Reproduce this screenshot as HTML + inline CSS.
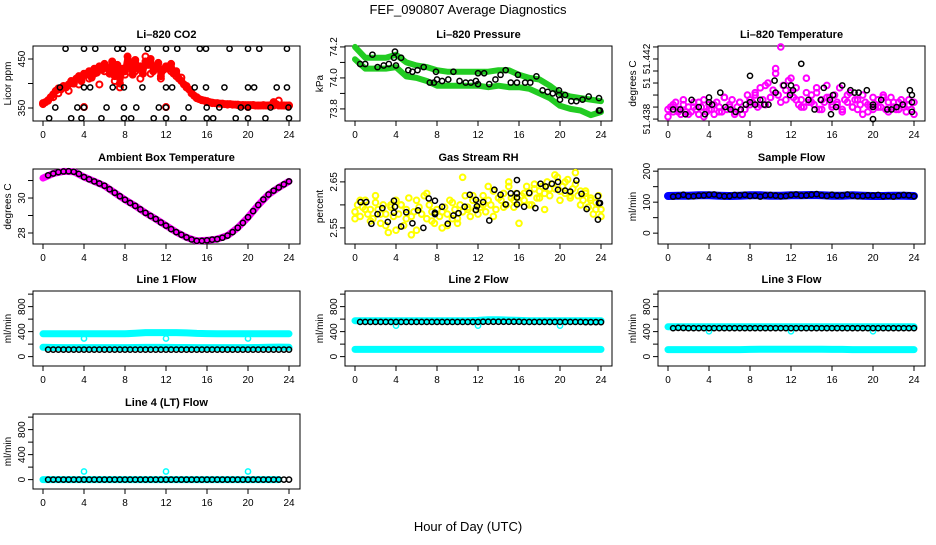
<!DOCTYPE html>
<html><head><meta charset="utf-8"><style>
html,body{margin:0;padding:0;background:#fff;}
svg text{font-family:"Liberation Sans",Arial,sans-serif;}
</style></head><body>
<svg id="chart" width="936" height="540" viewBox="0 0 936 540" xmlns="http://www.w3.org/2000/svg">
<rect width="936" height="540" fill="#fff"/>
<text x="468" y="14" font-size="13" text-anchor="middle">FEF_090807  Average Diagnostics</text>
<text x="468" y="531" font-size="13" text-anchor="middle">Hour of Day (UTC)</text>
</svg>
<script>
// ---------- data ----------
const xTicks=[0,4,8,12,16,20,24];
// CO2 (ppm)
const co2Red=[360,362,366,372,378,385,390,388,395,392,398,405,400,410,415,405,420,418,425,412,430,422,435,428,440,432,420,445,415,438,400,430,425,455,440,418,448,430,435,420,445,438,450,425,432,442,415,428,435,430,440,420,425,410,405,398,395,388,380,375,370,368,366,365,364,362,361,360,360,359,359,358,358,358,357,357,357,356,356,356,356,356,356,355,355,355,356,355,355,356,362,358,355,355,355,355,355];
const co2RedB=[358,365,372,380,392,385,400,398,352,410,420,398,425,430,405,392,418,440,425,410,455,420,432,410,352,425,415,412,392,380,372,366,362,360,359,358,357,357,356,356,352,356,355,355,355,355,365,355,355];
const co2BlackH=[2.2,4.0,5.1,7.25,7.8,10.2,12.0,13.1,15.3,15.9,18.2,20.0,21.1,23.8, 1.65,4.0,4.6,6.8,7.9,9.7,12.0,12.6,14.8,15.9,17.7,20.0,20.6,22.8,23.8, 1.2,3.35,4.0,6.2,7.9,9.1,11.3,12.0,14.2,15.97,17.2,19.3,20.0,22.2,23.95, 0.6,2.75,3.75,5.7,7.9,8.6,10.8,12.0,13.7,15.97,16.6,18.8,20.0,21.7,24.0];
const co2BlackV=[471,471,471,471,471,471,471,471,471,471,471,471,471,471, 392,392,392,392,392,392,392,392,392,392,392,392,392,392,392, 351,351,351,351,351,351,351,351,351,351,351,351,351,351,351, 329,329,329,329,329,329,329,329,329,329,329,329,329,329,329];
// Pressure (kPa), hourly bands
const presUpper=[74.20,74.13,74.13,74.13,74.15,74.10,74.08,74.07,74.05,74.04,74.04,74.04,74.04,74.04,74.05,74.05,74.02,74.00,73.99,73.95,73.90,73.88,73.87,73.86,73.85];
const presLower=[74.12,74.06,74.06,74.06,74.07,74.01,74.00,73.98,73.95,73.95,73.95,73.95,73.95,73.94,73.95,73.94,73.94,73.93,73.90,73.87,73.82,73.80,73.79,73.76,73.78];
const presBlackH=[0.5,1.0,1.7,2.2,2.8,3.3,3.8,3.9,4.0,4.5,5.2,5.6,6.1,6.7,7.3,7.7,7.9,8.0,8.5,9.1,9.6,10.2,10.8,11.3,11.8,12.0,12.0,12.6,13.1,13.7,14.2,14.7,15.2,15.8,15.9,16.6,17.1,17.7,18.3,18.8,19.3,19.9,19.9,20.0,20.5,21.1,21.6,22.2,22.8,23.8,23.8,23.9];
const presBlackV=[74.09,74.09,74.15,74.07,74.08,74.09,74.13,74.17,74.08,74.13,74.05,74.04,74.05,74.07,73.97,73.97,74.04,73.99,73.98,73.99,74.04,73.98,73.97,73.97,73.98,74.03,73.96,74.03,73.96,73.99,74.02,74.05,73.97,73.97,74.02,73.97,73.97,74.01,73.92,73.91,73.90,73.89,73.92,73.86,73.89,73.85,73.85,73.86,73.88,73.87,73.79,73.79];
// Li-820 temperature (deg C)
const liTempA=[51.4379,51.4380,51.4378,51.4382,51.4379,51.4377,51.4381,51.4378,51.4380,51.4378,51.4382,51.4379,51.4377,51.4380,51.4383,51.4378,51.4381,51.4379,51.4377,51.4382,51.4380,51.4378,51.4384,51.4379,51.4381,51.4383,51.4378,51.4380,51.4382,51.4377,51.4379,51.4385,51.4381,51.4382,51.4386,51.4380,51.4388,51.4383,51.4381,51.4390,51.4384,51.4387,51.4394,51.4385,51.4382,51.4389,51.4383,51.4391,51.4386,51.4384,51.4388,51.4381,51.4383,51.4380,51.4392,51.4382,51.4385,51.4381,51.4386,51.4379,51.4383,51.4382,51.4389,51.4384,51.4380,51.4385,51.4381,51.4388,51.4379,51.4383,51.4382,51.4386,51.4380,51.4383,51.4379,51.4381,51.4385,51.4382,51.4378,51.4380,51.4384,51.4381,51.4383,51.4380,51.4385,51.4379,51.4382,51.4384,51.4380,51.4379,51.4382,51.4383,51.4380,51.4378,51.4381,51.4379,51.4382];
const liTempB=[51.4376,51.4381,51.4378,51.4383,51.4377,51.4380,51.4382,51.4376,51.4379,51.4381,51.4378,51.4384,51.4380,51.4377,51.4382,51.4379,51.4383,51.4385,51.4381,51.4389,51.4384,51.4396,51.4405,51.4387,51.4392,51.4383,51.4380,51.4386,51.4382,51.4388,51.4379,51.4384,51.4381,51.4382,51.4378,51.4385,51.4380,51.4383,51.4377,51.4381,51.4379,51.4380,51.4384,51.4378,51.4382,51.4379,51.4381,51.4383,51.4377];
const liTempBlackH=[0.5,1.2,1.7,2.3,3.0,3.6,4.0,4.0,4.3,5.1,5.6,6.1,6.6,7.1,7.6,8.0,8.0,8.5,9.0,9.4,9.8,10.4,10.5,11.3,11.9,12.0,12.2,13.0,13.7,14.3,14.9,15.2,15.8,15.9,16.1,16.4,17.0,17.8,18.2,18.6,19.4,20.0,20.0,20.0,20.8,21.4,21.8,22.3,22.9,23.6,23.8,23.8,23.8];
const liTempBlackV=[51.4379,51.4379,51.4377,51.4383,51.4380,51.4377,51.4382,51.4384,51.4381,51.4386,51.4380,51.4379,51.4378,51.4379,51.4381,51.4382,51.4393,51.4381,51.4383,51.4381,51.4381,51.4391,51.4386,51.4389,51.4385,51.4389,51.4387,51.4398,51.4383,51.4379,51.4383,51.4388,51.4383,51.4377,51.4385,51.4380,51.4389,51.4387,51.4386,51.4386,51.4387,51.4381,51.4380,51.4375,51.4383,51.4379,51.4379,51.4380,51.4381,51.4387,51.4385,51.4382,51.4378];
// Ambient box temperature
const ambHourly=[31.14,31.40,31.52,31.50,31.20,30.95,30.70,30.30,29.90,29.55,29.15,28.80,28.42,28.05,27.75,27.55,27.58,27.65,27.85,28.30,28.90,29.60,30.20,30.60,30.95];
const ambBlack=[31.30,31.40,31.48,31.52,31.53,31.50,31.38,31.20,31.07,30.95,30.83,30.70,30.50,30.30,30.10,29.90,29.72,29.55,29.35,29.15,28.97,28.80,28.60,28.42,28.22,28.05,27.90,27.75,27.63,27.55,27.55,27.58,27.62,27.65,27.73,27.85,28.05,28.30,28.58,28.90,29.25,29.60,29.92,30.20,30.42,30.60,30.78,30.95];
// Gas stream RH (percent)
const rhA=[2.585,2.600,2.575,2.595,2.610,2.580,2.590,2.570,2.605,2.590,2.560,2.600,2.580,2.540,2.595,2.575,2.610,2.580,2.600,2.555,2.590,2.615,2.575,2.585,2.545,2.595,2.580,2.620,2.570,2.600,2.585,2.560,2.590,2.575,2.550,2.595,2.580,2.610,2.570,2.590,2.560,2.600,2.585,2.620,2.595,2.575,2.610,2.590,2.605,2.595,2.620,2.585,2.610,2.600,2.630,2.590,2.615,2.610,2.625,2.600,2.640,2.615,2.595,2.625,2.605,2.620,2.610,2.640,2.625,2.600,2.635,2.615,2.630,2.640,2.625,2.650,2.620,2.645,2.635,2.660,2.630,2.640,2.625,2.655,2.615,2.635,2.645,2.620,2.630,2.610,2.625,2.595,2.615,2.580,2.605,2.620,2.590];
const rhB=[2.570,2.610,2.590,2.565,2.620,2.580,2.555,2.600,2.545,2.600,2.570,2.535,2.610,2.580,2.625,2.565,2.590,2.585,2.555,2.605,2.570,2.660,2.590,2.620,2.580,2.600,2.640,2.575,2.615,2.595,2.650,2.610,2.560,2.625,2.600,2.645,2.615,2.590,2.635,2.665,2.610,2.650,2.620,2.670,2.600,2.630,2.610,2.590,2.575];
const rhBlackH=[0.55,1.1,1.6,2.2,2.67,3.2,3.8,3.8,3.9,4.5,5.0,5.6,6.15,6.67,7.2,7.8,7.8,7.8,8.5,9.05,9.6,10.1,10.7,11.2,11.8,11.8,11.9,12.5,13.1,13.6,14.2,14.7,15.2,15.8,15.8,15.8,15.8,16.5,17.0,17.6,18.1,18.6,19.2,19.8,19.8,20.5,21.0,21.6,22.1,22.6,23.7,23.8,23.7,23.9];
const rhBlackV=[2.606,2.606,2.559,2.580,2.593,2.563,2.609,2.583,2.596,2.553,2.584,2.560,2.588,2.550,2.614,2.580,2.609,2.583,2.596,2.559,2.577,2.582,2.596,2.622,2.611,2.589,2.597,2.606,2.566,2.633,2.622,2.601,2.625,2.625,2.601,2.654,2.616,2.596,2.626,2.593,2.646,2.640,2.646,2.650,2.633,2.631,2.629,2.653,2.624,2.591,2.619,2.604,2.568,2.604];
// Sample flow (ml/min)
const sampleBlue=[120,121,121,122,122,121,120,121,122,122,121,121,122,122,123,122,121,121,122,121,120,120,121,121,120];
const sampleBlack=[118,120,124,119,119,121,122,124,125,121,119,120,123,122,124,120,121,118,122,123,121,119,120,123,125,121,122,124,126,122,120,124,121,122,125,121,119,120,122,121,123,119,120,118,121,123,122,119];
// Line flows (ml/min)
const l1CyanHi=[365,365,365,365,365,365,365,365,365,375,385,385,385,385,380,372,368,366,366,366,366,366,366,366,366];
const l1CyanLo=[150,146,144,144,144,144,144,144,144,146,148,148,148,146,146,144,144,144,144,144,144,146,150,152,150];
const l1Black=[112,112,112,112,112,112,112,112,112,112,112,112,112,112,112,112,112,112,112,112,112,112,112,112,112,112,112,112,112,112,112,112,112,112,112,112,112,112,112,112,112,112,112,112,112,112,112,112];
const l1OutH=[4,12,20], l1OutV=[290,290,290];
const l2CyanHi=[575,575,575,575,575,575,575,575,575,575,575,575,580,590,590,585,580,575,575,575,575,575,575,575,575];
const l2CyanLo=[115,115,115,115,115,115,115,115,115,115,115,115,115,115,115,115,115,115,115,115,115,115,115,115,115];
const l2Black=[555,555,555,555,555,555,555,555,555,555,555,555,555,555,555,555,555,555,555,555,555,555,555,555,558,558,558,558,558,558,558,558,555,555,555,555,555,555,555,555,555,555,555,555,552,552,552,552];
const l2OutH=[4,12,20], l2OutV=[495,495,495];
const l3CyanHi=[478,478,478,478,478,478,478,478,478,478,478,478,478,478,478,478,478,478,478,478,478,478,478,478,478];
const l3CyanLo=[112,112,112,112,112,112,112,112,115,118,118,118,118,118,118,118,115,115,112,112,112,112,112,112,112];
const l3Black=[455,460,458,455,455,455,455,455,455,455,455,455,455,455,455,455,455,455,455,455,455,455,455,455,455,455,455,455,455,455,455,455,455,455,455,455,455,455,455,455,455,455,455,455,455,455,455,455];
const l3OutH=[4,12,20], l3OutV=[405,405,405];
const l4Cyan=[0,0,0,0,0,0,0,0,0,0,0,0,0,0,0,0,0,0,0,0,0,0,0,0];
const l4Black=[0,0,0,0,0,0,0,0,0,0,0,0,0,0,0,0,0,0,0,0,0,0,0,0,0,0,0,0,0,0,0,0,0,0,0,0,0,0,0,0,0,0,0,0,0,0,0,0];
const l4OutH=[4,12,20], l4OutV=[130,130,130];

// ---------- drawing ----------
const NS='http://www.w3.org/2000/svg';
const svg=document.getElementById('chart');
const L=[33,345,658], T=[46,169,291,414], W=267, H=75;
const xs=(c,h)=>L[c]+10+h*10.25;
function el(tag,attrs,parent){const e=document.createElementNS(NS,tag);for(const k in attrs)e.setAttribute(k,attrs[k]);(parent||svg).appendChild(e);return e;}
function panel(c,r,title,ylab,lo,hi,yt,ylabels,name){
  const g=el('g',{});
  
  
  const y=v=>T[r]+H-(v-lo)/(hi-lo)*H;
  const box=el('rect',{x:L[c],y:T[r],width:W,height:H,fill:'none',stroke:'#000','stroke-width':1},g);
  
  
  const t=el('text',{x:L[c]+W/2,y:T[r]-8,'font-size':11,'font-weight':'bold','text-anchor':'middle'},g);t.textContent=title;
  
  
  const yl=el('text',{transform:`translate(${L[c]-22},${T[r]+H/2}) rotate(-90)`,'font-size':10,'text-anchor':'middle'},g);yl.textContent=ylab;
  
  
  xTicks.forEach(h=>{const x=xs(c,h);el('line',{x1:x,x2:x,y1:T[r]+H,y2:T[r]+H+5,stroke:'#000'},g);
    const tx=el('text',{x:x,y:T[r]+H+17,'font-size':10,'text-anchor':'middle'},g);tx.textContent=h;
    
    });
  yt.forEach((v,i)=>{const yy=y(v);el('line',{x1:L[c],x2:L[c]-5,y1:yy,y2:yy,stroke:'#000'},g);
    if(ylabels[i]!==''){const tx=el('text',{transform:`translate(${L[c]-8},${yy}) rotate(-90)`,'font-size':10,'text-anchor':'middle'},g);tx.textContent=ylabels[i];
    
    }});
  return {g,y,c};
}
function pts(p,hs,vs,color,name,r,sw){const g=el('g',{fill:'none',stroke:color,'stroke-width':sw||1.5},p.g);
  
  
  vs.forEach((v,i)=>{el('circle',{cx:xs(p.c,hs[i]),cy:p.y(v),r:r||2.6},g);});}
function band(p,hs,vs,color,w,name){const d=vs.map((v,i)=>(i?'L':'M')+xs(p.c,hs[i]).toFixed(1)+','+p.y(v).toFixed(1)).join('');
  const e=el('path',{d:d,fill:'none',stroke:color,'stroke-width':w,'stroke-linecap':'round','stroke-linejoin':'round'},p.g);
  
  }
const hourly=n=>Array.from({length:n},(_,i)=>i);
const quarter=n=>Array.from({length:n},(_,i)=>i*0.25);
const halfFrom0=n=>Array.from({length:n},(_,i)=>i*0.5);
const halfFrom05=n=>Array.from({length:n},(_,i)=>(i+1)*0.5);

// CO2
let p=panel(0,0,'Li\u2013820 CO2','Licor ppm',323.5,476.5,[350,400,450],['350','','450'],'co2-panel');
band(p,quarter(co2Red.length),co2Red,'#ff0000',6,'co2-band');
pts(p,quarter(co2Red.length),co2Red,'#ff0000','co2-series',3,2);
pts(p,halfFrom0(co2RedB.length),co2RedB,'#ff0000','co2-series-b',3,2);
pts(p,co2BlackH,co2BlackV,'#000','co2-hourly-avg');
// Pressure
p=panel(1,0,'Li\u2013820 Pressure','kPa',73.722,74.206,[73.8,73.9,74.0,74.1,74.2],['73.8','','74.0','','74.2'],'pressure-panel');
band(p,hourly(25),presUpper,'#22cc22',6,'pressure-band-upper');
band(p,hourly(25),presLower,'#22cc22',6,'pressure-band-lower');
pts(p,presBlackH,presBlackV,'#000','pressure-hourly-avg');
// Li temp
p=panel(2,0,'Li\u2013820 Temperature','degrees C',51.43742,51.44054,[51.4375,51.438,51.4385,51.439,51.4395,51.44,51.4405],['51.438','','','51','','51.442',''],'li-temp-panel');
pts(p,quarter(liTempA.length),liTempA,'#ff00ff','li-temp-series',2.8,2);
pts(p,halfFrom0(liTempB.length),liTempB,'#ff00ff','li-temp-series-b',2.8,2);
pts(p,liTempBlackH,liTempBlackV,'#000','li-temp-hourly-avg');
// Ambient
p=panel(0,1,'Ambient Box Temperature','degrees C',27.37,31.66,[28,29,30,31],['28','','30',''],'ambient-temp-panel');
band(p,hourly(25),ambHourly,'#ff00ff',7,'ambient-temp-series');
pts(p,halfFrom05(ambBlack.length),ambBlack,'#000','ambient-temp-hourly-avg');
// RH
p=panel(1,1,'Gas Stream RH','percent',2.515,2.678,[2.55,2.60,2.65],['2.55','','2.65'],'rh-panel');
pts(p,quarter(rhA.length),rhA,'#ffff00','rh-series',2.8,2);
pts(p,halfFrom0(rhB.length),rhB,'#ffff00','rh-series-b',2.8,2);
pts(p,rhBlackH,rhBlackV,'#000','rh-hourly-avg');
// Sample flow
p=panel(2,1,'Sample Flow','ml/min',-35,207,[0,50,100,150,200],['0','','100','','200'],'sample-flow-panel');
band(p,hourly(25),sampleBlue,'#0000ff',8,'sample-flow-series');
pts(p,halfFrom05(sampleBlack.length),sampleBlack,'#000','sample-flow-hourly-avg');
const flowTicks=[0,200,400,600,800,1000], flowLabels=['0','','400','','800',''];
// Line 1
p=panel(0,2,'Line 1 Flow','ml/min',-150,1050,flowTicks,flowLabels,'line1-flow-panel');
band(p,hourly(25),l1CyanHi,'#00ffff',7,'line1-cyan-upper');
band(p,hourly(25),l1CyanLo,'#00ffff',7,'line1-cyan-lower');
pts(p,l1OutH,l1OutV,'#00ffff','line1-outliers');
pts(p,halfFrom05(l1Black.length),l1Black,'#000','line1-hourly-avg');
// Line 2
p=panel(1,2,'Line 2 Flow','ml/min',-150,1050,flowTicks,flowLabels,'line2-flow-panel');
band(p,hourly(25),l2CyanHi,'#00ffff',7,'line2-cyan-upper');
band(p,hourly(25),l2CyanLo,'#00ffff',7,'line2-cyan-lower');
pts(p,l2OutH,l2OutV,'#00ffff','line2-outliers');
pts(p,halfFrom05(l2Black.length),l2Black,'#000','line2-hourly-avg');
// Line 3
p=panel(2,2,'Line 3 Flow','ml/min',-150,1050,flowTicks,flowLabels,'line3-flow-panel');
band(p,hourly(25),l3CyanHi,'#00ffff',7,'line3-cyan-upper');
band(p,hourly(25),l3CyanLo,'#00ffff',7,'line3-cyan-lower');
pts(p,l3OutH,l3OutV,'#00ffff','line3-outliers');
pts(p,halfFrom05(l3Black.length),l3Black,'#000','line3-hourly-avg');
// Line 4
p=panel(0,3,'Line 4 (LT) Flow','ml/min',-150,1050,flowTicks,flowLabels,'line4-flow-panel');
band(p,hourly(24),l4Cyan,'#00ffff',7,'line4-cyan');
pts(p,l4OutH,l4OutV,'#00ffff','line4-outliers');
pts(p,halfFrom05(l4Black.length),l4Black,'#000','line4-hourly-avg');
</script>
</body></html>
